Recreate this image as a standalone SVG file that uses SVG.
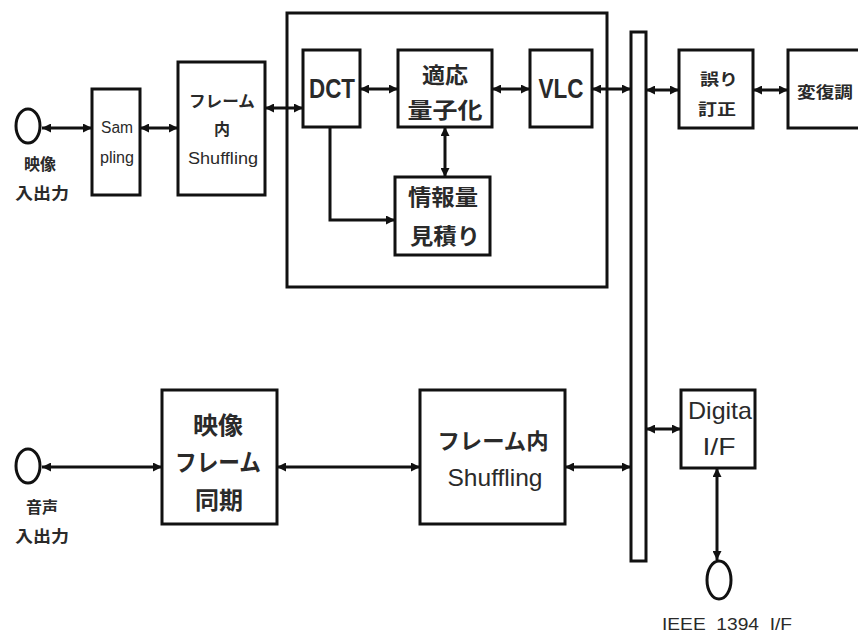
<svg xmlns="http://www.w3.org/2000/svg" width="858" height="635" viewBox="0 0 858 635">
<defs>
<marker id="ah" viewBox="0 0 10 10" refX="10" refY="5" markerWidth="10" markerHeight="9" markerUnits="userSpaceOnUse" orient="auto-start-reverse">
<path d="M0,0 L10,5 L0,10 z" fill="#111"/>
</marker>
<style>
.box{fill:#fff;stroke:#111;stroke-width:3}
.ln{fill:none;stroke:#111;stroke-width:3}
.bi{marker-start:url(#ah);marker-end:url(#ah)}
.one{marker-end:url(#ah)}
text{font-family:"Noto Sans CJK JP","Liberation Sans",sans-serif;fill:#2a2a2a;text-anchor:middle;dominant-baseline:central;font-weight:bold}
.lat{font-family:"Liberation Sans Narrow","Liberation Sans","Noto Sans CJK JP",sans-serif;font-weight:normal}
.b{font-weight:bold}
.s{font-size:16px}
.m{font-size:22px}
.l{font-size:24px}
</style>
</defs>
<rect width="858" height="635" fill="#fff"/>

<g id="container">
<rect x="287" y="13" width="320" height="274" fill="none" stroke="#111" stroke-width="3"/>
</g>

<g id="bus">
<rect class="box" x="631" y="32" width="15" height="529"/>
</g>

<g id="connectors">
<line class="ln bi" x1="42" y1="128" x2="92" y2="128"/>
<line class="ln bi" x1="140" y1="128" x2="178" y2="128"/>
<line class="ln bi" x1="265" y1="108" x2="303" y2="108"/>
<line class="ln bi" x1="360" y1="89" x2="398" y2="89"/>
<line class="ln bi" x1="492" y1="89" x2="530" y2="89"/>
<line class="ln bi" x1="592" y1="89" x2="631" y2="89"/>
<line class="ln bi" x1="445" y1="127" x2="445" y2="177"/>
<polyline class="ln one" points="330,127 330,220 395,220"/>
<line class="ln bi" x1="646" y1="90" x2="679" y2="90"/>
<line class="ln bi" x1="753" y1="90" x2="788" y2="90"/>
<line class="ln bi" x1="42" y1="467" x2="162" y2="467"/>
<line class="ln bi" x1="277" y1="467" x2="420" y2="467"/>
<line class="ln bi" x1="565" y1="467" x2="631" y2="467"/>
<line class="ln bi" x1="646" y1="429" x2="681" y2="429"/>
<line class="ln bi" x1="717" y1="468" x2="717" y2="560"/>
</g>

<g id="video-io">
<ellipse cx="28" cy="126" rx="12" ry="17" fill="#fff" stroke="#111" stroke-width="3"/>
<text class="s" x="40" y="163">映像</text>
<text class="s" x="42" y="192" textLength="54" lengthAdjust="spacingAndGlyphs">入出力</text>
</g>

<g id="sampling">
<rect class="box" x="92" y="89" width="48" height="106"/>
<text class="s lat" x="117" y="127" textLength="32" lengthAdjust="spacingAndGlyphs">Sam</text>
<text class="s lat" x="117" y="157" textLength="34" lengthAdjust="spacingAndGlyphs">pling</text>
</g>

<g id="frame-shuffle-1">
<rect class="box" x="178" y="62" width="87" height="133"/>
<text class="s" x="222" y="100" textLength="66" lengthAdjust="spacingAndGlyphs">フレーム</text>
<text class="s" x="222" y="128">内</text>
<text class="s lat" x="223" y="158" textLength="70" lengthAdjust="spacingAndGlyphs">Shuffling</text>
</g>

<g id="dct">
<rect class="box" x="303" y="50" width="57" height="77"/>
<text class="lat b" x="332" y="89" font-size="27" textLength="46" lengthAdjust="spacingAndGlyphs">DCT</text>
</g>

<g id="quant">
<rect class="box" x="398" y="50" width="94" height="77"/>
<text class="m" x="445" y="73" textLength="46" lengthAdjust="spacingAndGlyphs">適応</text>
<text class="m" x="445" y="108" textLength="75" lengthAdjust="spacingAndGlyphs">量子化</text>
</g>

<g id="vlc">
<rect class="box" x="530" y="50" width="62" height="77"/>
<text class="lat b" x="561" y="89" font-size="27" textLength="45" lengthAdjust="spacingAndGlyphs">VLC</text>
</g>

<g id="estimate">
<rect class="box" x="395" y="177" width="95" height="78"/>
<text class="m" x="443" y="195" textLength="70" lengthAdjust="spacingAndGlyphs">情報量</text>
<text class="m" x="445" y="234" textLength="70" lengthAdjust="spacingAndGlyphs">見積り</text>
</g>

<g id="ecc">
<rect class="box" x="679" y="50" width="74" height="78"/>
<text class="s" x="719" y="78" textLength="38" lengthAdjust="spacingAndGlyphs">誤り</text>
<text class="s" x="717" y="108" textLength="38" lengthAdjust="spacingAndGlyphs">訂正</text>
</g>

<g id="modem">
<rect class="box" x="788" y="50" width="80" height="78"/>
<text class="s" x="825" y="91" textLength="56" lengthAdjust="spacingAndGlyphs">変復調</text>
</g>

<g id="audio-io">
<ellipse cx="28" cy="466" rx="12" ry="17" fill="#fff" stroke="#111" stroke-width="3"/>
<text class="s" x="42" y="506">音声</text>
<text class="s" x="42" y="535" textLength="54" lengthAdjust="spacingAndGlyphs">入出力</text>
</g>

<g id="frame-sync">
<rect class="box" x="162" y="390" width="115" height="134"/>
<text class="l" x="218" y="423" textLength="50" lengthAdjust="spacingAndGlyphs">映像</text>
<text class="l" x="218" y="460" textLength="86" lengthAdjust="spacingAndGlyphs">フレーム</text>
<text class="l" x="219" y="498" textLength="48" lengthAdjust="spacingAndGlyphs">同期</text>
</g>

<g id="frame-shuffle-2">
<rect class="box" x="420" y="390" width="145" height="134"/>
<text class="m" x="493" y="439" textLength="111" lengthAdjust="spacingAndGlyphs">フレーム内</text>
<text class="lat" x="495" y="477" font-size="24" textLength="95" lengthAdjust="spacingAndGlyphs">Shuffling</text>
</g>

<g id="digital-if">
<rect class="box" x="681" y="390" width="74" height="78"/>
<text class="lat" x="720" y="410" font-size="24" textLength="64" lengthAdjust="spacingAndGlyphs">Digita</text>
<text class="lat" x="719" y="446" font-size="24" textLength="33" lengthAdjust="spacingAndGlyphs">I/F</text>
</g>

<g id="ieee-io">
<ellipse cx="719" cy="580" rx="12" ry="19" fill="#fff" stroke="#111" stroke-width="3"/>
<text class="lat" x="727" y="624" font-size="17" textLength="130" lengthAdjust="spacingAndGlyphs" xml:space="preserve">IEEE  1394  I/F</text>
</g>
</svg>
